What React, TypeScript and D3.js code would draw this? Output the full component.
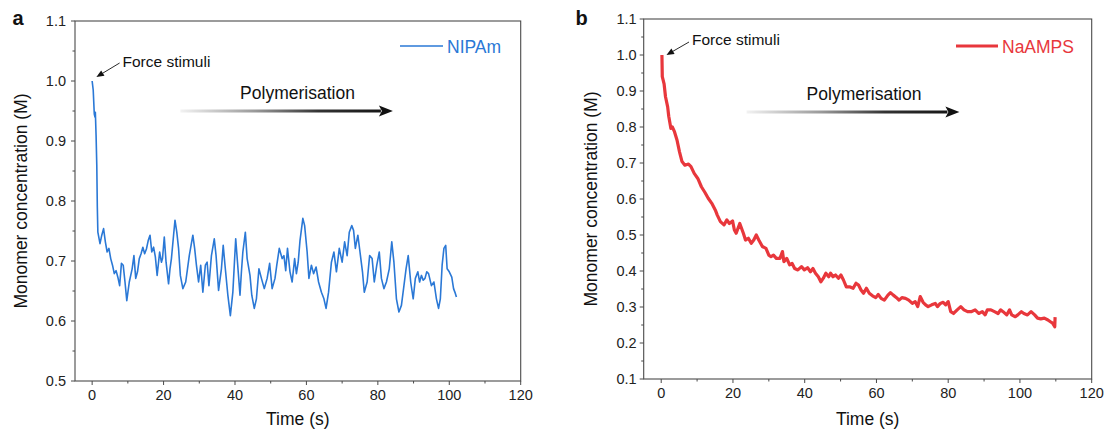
import React from "react";
import * as d3 from "d3";

// ---------- DATA ----------
const nipamTime = [0.0, 0.3, 0.6, 0.8, 0.9, 1.1, 1.3, 1.45, 1.6, 2.2, 2.7, 3.2, 3.7, 4.2, 4.7, 5.2, 5.7, 6.2, 6.7, 7.2, 7.7, 8.2, 8.7, 9.2, 9.7, 10.4, 11.2, 11.7, 12.2, 12.7, 13.2, 13.7, 14.2, 14.7, 15.2, 15.7, 16.2, 16.7, 17.2, 17.7, 18.2, 18.9, 19.4, 19.7, 20.2, 20.7, 21.4, 21.8, 22.2, 22.8, 23.2, 23.7, 24.2, 24.7, 25.4, 26.2, 26.7, 27.2, 27.7, 28.2, 28.7, 29.2, 29.8, 30.4, 31.0, 31.7, 32.2, 32.7, 33.4, 34.2, 34.7, 35.4, 36.2, 36.7, 37.2, 38.0, 38.7, 39.4, 39.8, 40.2, 40.7, 41.4, 41.8, 42.2, 42.9, 43.4, 44.2, 44.7, 45.4, 46.0, 46.7, 47.4, 48.2, 49.0, 49.7, 50.4, 51.2, 51.7, 52.4, 53.2, 53.7, 54.2, 54.7, 55.4, 56.0, 56.7, 57.2, 57.7, 58.2, 59.0, 59.5, 60.2, 60.7, 61.4, 62.0, 62.7, 63.4, 64.2, 64.9, 65.5, 66.2, 67.0, 67.7, 68.4, 69.2, 70.0, 70.7, 71.4, 72.0, 72.7, 73.2, 73.7, 74.4, 75.0, 75.7, 76.2, 77.0, 77.7, 78.4, 79.0, 79.7, 80.4, 81.0, 81.7, 82.4, 83.2, 83.9, 84.5, 85.2, 85.9, 86.6, 87.2, 87.9, 88.5, 89.2, 89.9, 90.5, 91.2, 91.7, 92.2, 92.7, 93.2, 93.7, 94.2, 95.0, 95.7, 96.4, 97.0, 97.5, 98.0, 98.5, 99.0, 99.4, 100.0, 100.7, 101.2, 101.7, 102.0];
const nipamConc = [1.0, 0.985, 0.945, 0.94, 0.948, 0.91, 0.86, 0.79, 0.748, 0.729, 0.743, 0.754, 0.732, 0.715, 0.721, 0.704, 0.693, 0.679, 0.684, 0.673, 0.659, 0.696, 0.693, 0.665, 0.634, 0.665, 0.687, 0.709, 0.671, 0.682, 0.704, 0.712, 0.723, 0.712, 0.72, 0.734, 0.743, 0.715, 0.723, 0.707, 0.676, 0.715, 0.698, 0.704, 0.74, 0.698, 0.662, 0.687, 0.704, 0.743, 0.768, 0.748, 0.721, 0.676, 0.654, 0.665, 0.687, 0.709, 0.726, 0.743, 0.721, 0.693, 0.665, 0.693, 0.648, 0.693, 0.698, 0.659, 0.709, 0.737, 0.709, 0.651, 0.687, 0.726, 0.693, 0.643, 0.609, 0.648, 0.693, 0.737, 0.698, 0.643, 0.682, 0.715, 0.748, 0.704, 0.676, 0.643, 0.621, 0.637, 0.687, 0.671, 0.654, 0.671, 0.696, 0.654, 0.671, 0.693, 0.721, 0.704, 0.709, 0.684, 0.721, 0.682, 0.665, 0.704, 0.679, 0.698, 0.734, 0.771, 0.759, 0.715, 0.671, 0.693, 0.679, 0.69, 0.665, 0.648, 0.637, 0.621, 0.648, 0.698, 0.715, 0.682, 0.721, 0.698, 0.732, 0.709, 0.748, 0.759, 0.751, 0.721, 0.743, 0.715, 0.682, 0.648, 0.665, 0.709, 0.704, 0.665, 0.693, 0.715, 0.671, 0.654, 0.665, 0.687, 0.732, 0.698, 0.637, 0.615, 0.626, 0.654, 0.687, 0.709, 0.665, 0.637, 0.671, 0.682, 0.665, 0.676, 0.668, 0.671, 0.682, 0.679, 0.659, 0.665, 0.637, 0.621, 0.637, 0.693, 0.721, 0.726, 0.687, 0.682, 0.673, 0.654, 0.646, 0.64];

const naampsTime = [0.2, 0.3, 0.8, 1.2, 1.8, 2.1, 2.7, 3.1, 3.7, 4.4, 5.1, 5.8, 6.6, 7.6, 8.3, 9.2, 10.2, 11.2, 12.2, 13.1, 14.1, 15.1, 15.6, 16.5, 17.5, 18.3, 19.0, 19.9, 20.4, 20.9, 21.9, 22.9, 23.5, 24.3, 25.1, 25.8, 26.5, 27.2, 28.2, 29.2, 30.0, 30.6, 31.3, 32.1, 33.1, 33.8, 34.2, 35.0, 35.8, 36.5, 37.2, 38.1, 39.1, 39.9, 40.8, 41.6, 42.3, 43.0, 43.8, 44.5, 45.2, 45.9, 46.7, 47.2, 47.9, 48.6, 49.4, 50.1, 50.8, 51.6, 52.5, 53.5, 54.3, 55.0, 55.7, 56.4, 57.2, 58.0, 58.9, 59.8, 60.5, 61.3, 62.2, 63.2, 63.9, 64.7, 65.6, 66.3, 67.1, 68.1, 69.0, 70.0, 70.8, 71.5, 72.2, 73.0, 73.7, 74.4, 75.4, 76.4, 77.0, 77.8, 78.6, 79.3, 80.0, 80.7, 81.5, 82.5, 83.5, 84.4, 85.4, 86.4, 87.5, 88.5, 89.5, 90.3, 90.9, 91.9, 92.9, 93.9, 94.6, 95.3, 96.3, 97.1, 97.7, 98.7, 99.4, 100.4, 101.1, 102.1, 103.1, 104.1, 104.9, 105.8, 106.8, 107.8, 108.5, 109.1, 109.7, 109.8];
const naampsConc = [1.0, 0.94, 0.92, 0.884, 0.856, 0.83, 0.796, 0.8, 0.787, 0.764, 0.731, 0.704, 0.694, 0.697, 0.69, 0.671, 0.657, 0.634, 0.618, 0.602, 0.588, 0.569, 0.556, 0.537, 0.528, 0.542, 0.532, 0.539, 0.514, 0.505, 0.532, 0.505, 0.486, 0.491, 0.477, 0.486, 0.5, 0.486, 0.468, 0.463, 0.444, 0.44, 0.444, 0.435, 0.435, 0.454, 0.426, 0.435, 0.417, 0.421, 0.407, 0.403, 0.412, 0.403, 0.409, 0.398, 0.407, 0.394, 0.384, 0.37, 0.38, 0.394, 0.384, 0.394, 0.384, 0.389, 0.38, 0.389, 0.375, 0.356, 0.356, 0.352, 0.366, 0.361, 0.347, 0.338, 0.352, 0.338, 0.331, 0.326, 0.335, 0.324, 0.319, 0.333, 0.34, 0.333, 0.326, 0.319, 0.326, 0.324, 0.319, 0.31, 0.315, 0.301, 0.329, 0.313, 0.306, 0.301, 0.306, 0.31, 0.301, 0.31, 0.313, 0.306, 0.315, 0.287, 0.282, 0.292, 0.301, 0.292, 0.287, 0.287, 0.292, 0.282, 0.287, 0.278, 0.292, 0.292, 0.287, 0.282, 0.292, 0.287, 0.278, 0.292, 0.278, 0.273, 0.278, 0.287, 0.282, 0.278, 0.287, 0.278, 0.269, 0.267, 0.269, 0.264, 0.259, 0.255, 0.245, 0.272];

const xMajorTicks = [0, 20, 40, 60, 80, 100, 120];
const xMinorTicks = [10, 30, 50, 70, 90, 110];
const yMajorTicksA = [0.5, 0.6, 0.7, 0.8, 0.9, 1.0, 1.1];
const yMinorTicksA = [0.55, 0.65, 0.75, 0.85, 0.95, 1.05];
const yMajorTicksB = [0.1, 0.2, 0.3, 0.4, 0.5, 0.6, 0.7, 0.8, 0.9, 1.0, 1.1];
const yMinorTicksB = [0.15, 0.25, 0.35, 0.45, 0.55, 0.65, 0.75, 0.85, 0.95, 1.05];

const seriesNames = ["NIPAm", "NaAMPS"];
const xTitle = "Time (s)";
const yTitle = "Monomer concentration (M)";
const forceLabel = "Force stimuli";
const polyLabel = "Polymerisation";

const FONT = "Arial, 'Liberation Sans', Helvetica, sans-serif";
const BLUE = "#2a78d6";
const RED = "#e8373c";
const AXIS = "#4a4a4a";

type PanelProps = {
  id: string;
  label: string;
  labelX: number;
  left: number;
  right: number;
  top: number;
  bottom: number;
  xDomain: [number, number];
  yDomain: [number, number];
  yMajor: number[];
  yMinor: number[];
  yLabelGap: number;
  yTitleX: number;
  time: number[];
  conc: number[];
  color: string;
  lineWidth: number;
  name: string;
  legendX: number;
  legendW: number;
  forceText: [number, number];
  forceFrom: [number, number];
  forceTo: [number, number];
  polyFromX: number;
  polyToX: number;
  polyY: number;
  polyTextX: number;
  polyTextY: number;
};

function Panel(p: PanelProps) {
  const x = d3.scaleLinear().domain(p.xDomain).range([p.left, p.right]);
  const y = d3.scaleLinear().domain(p.yDomain).range([p.bottom, p.top]);
  const pts = p.time.map((t, i) => [t, p.conc[i]] as [number, number]);
  const line = d3
    .line<[number, number]>()
    .x((d) => x(d[0]))
    .y((d) => y(d[1]));
  const fmt = d3.format(".1f");
  const gid = "grad-" + p.id;
  const headLen = 14;
  const headHalf = 5.5;
  const [fx0, fy0] = p.forceFrom;
  const [fx1, fy1] = p.forceTo;
  const ang = Math.atan2(fy1 - fy0, fx1 - fx0);
  const fh = 7.5;
  const fw = 3.2;
  const bx = fx1 - fh * Math.cos(ang);
  const by = fy1 - fh * Math.sin(ang);
  const head = `M${fx1},${fy1} L${bx + fw * Math.sin(ang)},${by - fw * Math.cos(ang)} L${bx - fw * Math.sin(ang)},${by + fw * Math.cos(ang)} Z`;

  return (
    <g>
      <defs>
        <linearGradient id={gid} x1={p.polyFromX} x2={p.polyToX} y1={0} y2={0} gradientUnits="userSpaceOnUse">
          <stop offset="0%" stopColor="#f2f2f2" />
          <stop offset="35%" stopColor="#9a9a9a" />
          <stop offset="65%" stopColor="#333" />
          <stop offset="100%" stopColor="#111" />
        </linearGradient>
      </defs>
      <rect x={p.left} y={p.top} width={p.right - p.left} height={p.bottom - p.top} fill="none" stroke={AXIS} strokeWidth={1.1} />
      {p.yMajor.map((v) => (
        <g key={"ym" + v}>
          <line x1={p.left - 4} x2={p.left} y1={y(v)} y2={y(v)} stroke={AXIS} strokeWidth={1} />
          <text x={p.left - p.yLabelGap} y={y(v)} dy="0.35em" textAnchor="end" fontSize={14.5} fontFamily={FONT} fill="#222">
            {fmt(v)}
          </text>
        </g>
      ))}
      {p.yMinor.map((v) => (
        <line key={"yn" + v} x1={p.left - 2.5} x2={p.left} y1={y(v)} y2={y(v)} stroke={AXIS} strokeWidth={1} />
      ))}
      {xMajorTicks.map((v) => (
        <g key={"xm" + v}>
          <line x1={x(v)} x2={x(v)} y1={p.bottom} y2={p.bottom + 4} stroke={AXIS} strokeWidth={1} />
          <text x={x(v)} y={p.bottom + 18.5} textAnchor="middle" fontSize={14.5} fontFamily={FONT} fill="#222">
            {v}
          </text>
        </g>
      ))}
      {xMinorTicks.map((v) => (
        <line key={"xn" + v} x1={x(v)} x2={x(v)} y1={p.bottom} y2={p.bottom + 2.5} stroke={AXIS} strokeWidth={1} />
      ))}
      <text x={(p.left + p.right) / 2} y={425} textAnchor="middle" fontSize={17.5} fontFamily={FONT} fill="#111">
        {xTitle}
      </text>
      <text
        transform={`translate(${p.yTitleX},${(p.top + p.bottom) / 2}) rotate(-90)`}
        textAnchor="middle"
        fontSize={17.5}
        fontFamily={FONT}
        fill="#111"
      >
        {yTitle}
      </text>
      <text x={p.labelX} y={25} fontSize={20} fontWeight="bold" fontFamily={FONT} fill="#111">
        {p.label}
      </text>
      <path d={line(pts) || ""} fill="none" stroke={p.color} strokeWidth={p.lineWidth} strokeLinejoin="round" />
      <line x1={p.legendX} x2={p.legendX + p.legendW} y1={46} y2={46} stroke={p.color} strokeWidth={p.lineWidth} />
      <text x={p.legendX + p.legendW + 4} y={52.5} fontSize={17.5} fontFamily={FONT} fill={p.color}>
        {p.name}
      </text>
      <text x={p.polyTextX} y={p.polyTextY} textAnchor="middle" fontSize={17.5} fontFamily={FONT} fill="#111">
        {polyLabel}
      </text>
      <line x1={p.polyFromX} x2={p.polyToX - headLen + 2} y1={p.polyY} y2={p.polyY} stroke={`url(#${gid})`} strokeWidth={3} />
      <path
        d={`M${p.polyToX},${p.polyY} L${p.polyToX - headLen},${p.polyY - headHalf} L${p.polyToX - headLen + 3},${p.polyY} L${p.polyToX - headLen},${p.polyY + headHalf} Z`}
        fill="#111"
      />
      <text x={p.forceText[0]} y={p.forceText[1]} fontSize={15.5} fontFamily={FONT} fill="#111">
        {forceLabel}
      </text>
      <line x1={fx0} y1={fy0} x2={bx} y2={by} stroke="#111" strokeWidth={0.9} />
      <path d={head} fill="#111" />
    </g>
  );
}

export default function App() {
  return (
    <svg
      width={1107}
      height={430}
      viewBox="0 0 1107 430"
      style={{ position: "absolute", left: 0, top: 0, background: "#fff" }}
    >
      <rect x={0} y={0} width={1107} height={430} fill="#fff" />
      <Panel
        id="a"
        label="a"
        labelX={12.5}
        left={75}
        right={520.7}
        top={21}
        bottom={381}
        xDomain={[-4.8, 120]}
        yDomain={[0.5, 1.1]}
        yMajor={yMajorTicksA}
        yMinor={yMinorTicksA}
        yLabelGap={9}
        yTitleX={26.5}
        time={nipamTime}
        conc={nipamConc}
        color={BLUE}
        lineWidth={1.6}
        name={seriesNames[0]}
        legendX={400}
        legendW={43}
        forceText={[122.5, 67]}
        forceFrom={[119.6, 63]}
        forceTo={[96.4, 77]}
        polyFromX={180.4}
        polyToX={392.9}
        polyY={111}
        polyTextX={297.5}
        polyTextY={99}
      />
      <Panel
        id="b"
        label="b"
        labelX={575.5}
        left={643.7}
        right={1091.7}
        top={19}
        bottom={379}
        xDomain={[-4.88, 120]}
        yDomain={[0.1, 1.1]}
        yMajor={yMajorTicksB}
        yMinor={yMinorTicksB}
        yLabelGap={7}
        yTitleX={597}
        time={naampsTime}
        conc={naampsConc}
        color={RED}
        lineWidth={3.2}
        name={seriesNames[1]}
        legendX={956}
        legendW={42}
        forceText={[692, 45]}
        forceFrom={[689, 42]}
        forceTo={[666.5, 55]}
        polyFromX={746.6}
        polyToX={959.4}
        polyY={112}
        polyTextX={864}
        polyTextY={100}
      />
    </svg>
  );
}
